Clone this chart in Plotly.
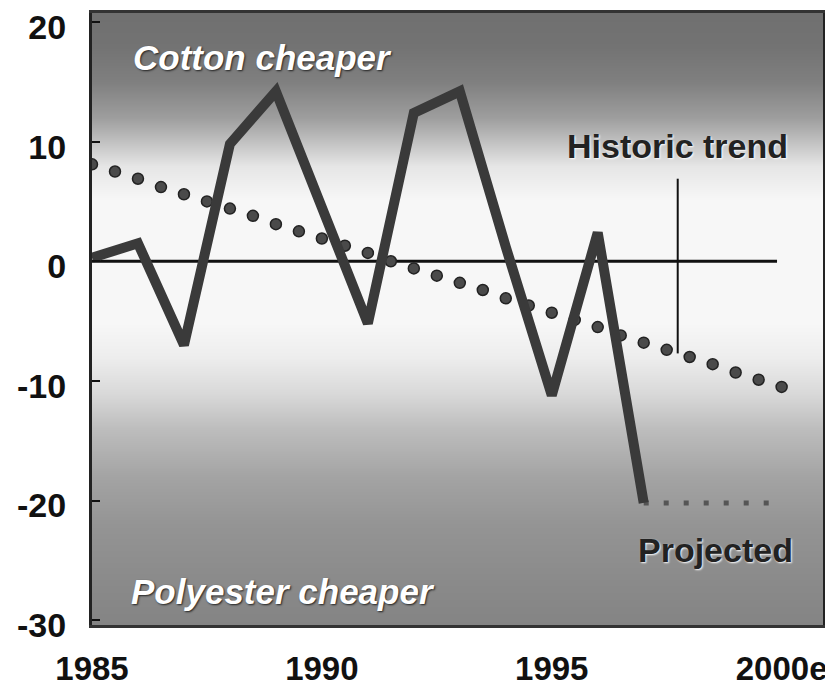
import plotly.graph_objects as go

# ── Datos ───────────────────────────────────────────────────────
years = [1985, 1986, 1987, 1988, 1989, 1990, 1991,
         1992, 1993, 1994, 1995, 1996, 1997]
price_gap = [0.3, 1.5, -7.0, 9.8, 14.2, 4.6, -5.2,
             12.4, 14.2, 1.2, -11.2, 2.4, -20.2]

trend_years = [1985.0, 1985.5, 1986.0, 1986.5, 1987.0, 1987.5, 1988.0, 1988.5,
               1989.0, 1989.5, 1990.0, 1990.5, 1991.0, 1991.5, 1992.0, 1992.5,
               1993.0, 1993.5, 1994.0, 1994.5, 1995.0, 1995.5, 1996.0, 1996.5,
               1997.0, 1997.5, 1998.0, 1998.5, 1999.0, 1999.5, 2000.0]
trend_values = [8.1, 7.5, 6.9, 6.2, 5.6, 5.0, 4.4, 3.8,
                3.1, 2.5, 1.9, 1.3, 0.7, 0.0, -0.6, -1.2,
                -1.8, -2.4, -3.1, -3.7, -4.3, -4.9, -5.5, -6.2,
                -6.8, -7.4, -8.0, -8.6, -9.3, -9.9, -10.5]

proj_years = [1997, 1998, 1999, 2000]
proj_values = [-20.2, -20.2, -20.2, -20.2]

zero_years = [1985, 1999.9]
zero_values = [0, 0]

x_tick_vals = [1985, 1990, 1995, 2000]
x_tick_labels = ["1985", "1990", "1995", "2000e"]
y_tick_vals = [-30, -20, -10, 0, 10, 20]
y_tick_labels = ["-30", "-20", "-10", "0", "10", "20"]

# fondo: nivel de gris por altura (0 negro, 1 blanco)
bg_y = [-35, -30, -27, -22, -18, -14, -11, -8, -5, 5, 8, 10, 12, 15, 18, 25]
bg_shade = [0.50, 0.52, 0.54, 0.58, 0.64, 0.74, 0.85, 0.93, 0.97,
            0.97, 0.90, 0.76, 0.62, 0.50, 0.45, 0.42]

FONT = "Liberation Sans, Arial, sans-serif"

fig = go.Figure()

# Fondo degradado
fig.add_trace(go.Heatmap(
    x=[1980, 2005],
    y=bg_y,
    z=[[s, s] for s in bg_shade],
    zmin=0, zmax=1,
    colorscale=[[0, "#000000"], [1, "#ffffff"]],
    zsmooth="best",
    showscale=False,
    hoverinfo="skip",
))

# Línea de cero
fig.add_trace(go.Scatter(
    x=zero_years, y=zero_values, mode="lines",
    line=dict(color="#111111", width=3),
    hoverinfo="skip", showlegend=False,
))

# Tendencia histórica (puntos)
fig.add_trace(go.Scatter(
    x=trend_years, y=trend_values, mode="markers",
    marker=dict(size=11, color="#4a4a4a", line=dict(color="#222222", width=1.5)),
    showlegend=False,
))

# Proyección
fig.add_trace(go.Scatter(
    x=proj_years, y=proj_values, mode="lines",
    line=dict(color="#555555", width=5, dash="5px,15px"),
    showlegend=False,
))

# Serie principal
fig.add_trace(go.Scatter(
    x=years, y=price_gap, mode="lines",
    line=dict(color="#3a3a3a", width=10),
    showlegend=False,
))

# Línea indicadora de "Historic trend"
fig.add_shape(type="line", x0=1997.74, x1=1997.74, y0=6.9, y1=-7.7,
              line=dict(color="#111111", width=2))

label_white = dict(family=FONT, size=35, color="#ffffff", style="italic",
                   weight="bold", shadow="1px 1px 2px #222222")
label_dark = dict(family=FONT, size=34, color="#222222", weight="bold",
                  shadow="1px 1px 2px #ffffff")

fig.add_annotation(x=1988.7, y=17.0, text="Cotton cheaper", showarrow=False,
                   font=label_white)
fig.add_annotation(x=1989.15, y=-27.6, text="Polyester cheaper", showarrow=False,
                   font=label_white)
fig.add_annotation(x=1997.74, y=9.6, text="Historic trend", showarrow=False,
                   font=label_dark)
fig.add_annotation(x=1998.57, y=-24.1, text="Projected", showarrow=False,
                   font=label_dark)

y_tick_font = dict(family=FONT, size=34, color="#111111", weight="bold")
x_tick_font = dict(family=FONT, size=33, color="#111111", weight="bold")

# la página añade 8 px de margen al body: se compensa aquí
fig.update_layout(
    width=825, height=679,
    margin=dict(l=84, r=10, t=5, b=62),
    paper_bgcolor="#ffffff",
    plot_bgcolor="#ffffff",
    showlegend=False,
    xaxis=dict(
        range=[1985, 2000.9],
        tickvals=x_tick_vals, ticktext=x_tick_labels,
        ticks="", ticklabelstandoff=12, tickfont=x_tick_font,
        ticklabeloverflow="allow",
        showgrid=False, zeroline=False, automargin=False,
        showline=True, mirror=True, linecolor="#333333", linewidth=3,
    ),
    yaxis=dict(
        range=[-30.4, 20.75],
        tickvals=y_tick_vals, ticktext=y_tick_labels,
        ticks="inside", ticklen=8, tickwidth=2, tickcolor="#111111",
        ticklabelstandoff=16, ticklabelshift=5, tickfont=y_tick_font,
        ticklabeloverflow="allow",
        showgrid=False, zeroline=False, automargin=False,
        showline=True, mirror=True, linecolor="#222222", linewidth=3,
    ),
)

fig.write_html("out.html")
